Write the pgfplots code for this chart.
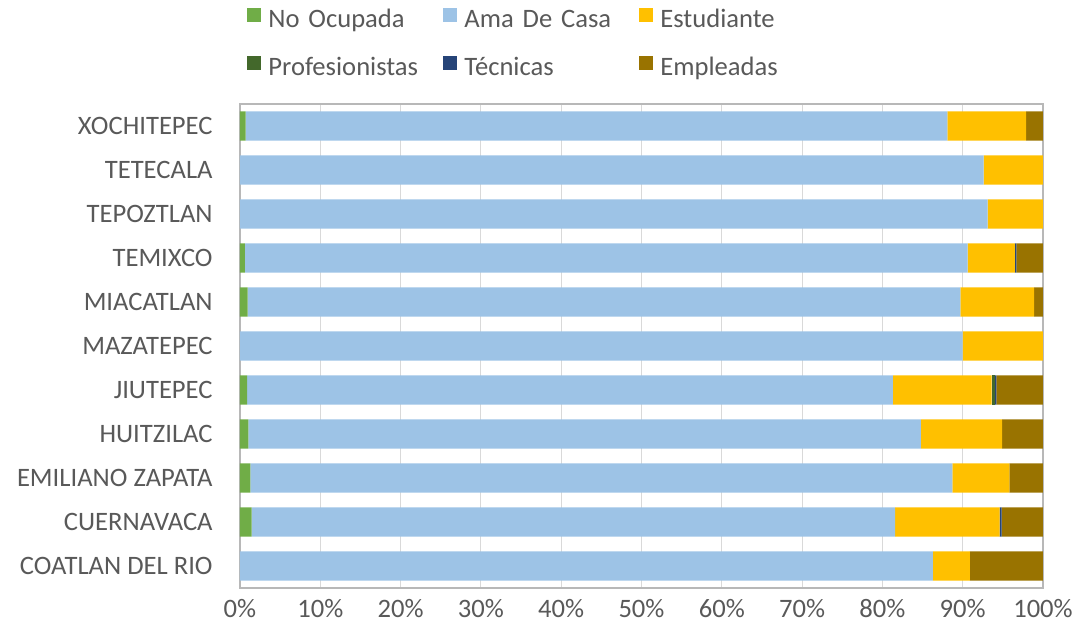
\documentclass[border=0pt]{standalone}
\usepackage{fontspec}
\setmainfont{Carlito}
\usepackage{pgfplots}
\usepackage{pgfplotstable}
\pgfplotsset{compat=1.18}

\definecolor{cNoOc}{HTML}{70AD47}
\definecolor{cAma}{HTML}{9DC3E6}
\definecolor{cEst}{HTML}{FFC000}
\definecolor{cProf}{HTML}{43682B}
\definecolor{cTec}{HTML}{264478}
\definecolor{cEmp}{HTML}{997300}
\definecolor{txt}{HTML}{595959}
\definecolor{grd}{HTML}{D9D9D9}

% porcentajes por municipio (y = posicion, de abajo hacia arriba)
\pgfplotstableread{
y  NoOc  Ama    Est   Prof  Tec   Emp
0  0     86.3   4.6   0     0     9.1
1  1.45  80.15  13.0  0     0.25  5.15
2  1.3   87.4   7.1   0     0     4.2
3  1.05  83.75  10.1  0     0     5.1
4  0.9   80.4   12.3  0.4   0.2   5.8
5  0     90.0   10.0  0     0     0
6  0.95  88.75  9.2   0     0     1.1
7  0.6   90.0   5.9   0     0.2   3.3
8  0     93.1   6.9   0     0     0
9  0     92.6   7.4   0     0     0
10 0.7   87.4   9.8   0     0     2.1
}\datos

\begin{document}
\begin{tikzpicture}
\fontsize{13.3}{16}\selectfont
\begin{axis}[
    name=ax,
    xbar stacked,
    bar width=0.66,
    scale only axis,
    width=401.5pt, height=242pt,
    xmin=0, xmax=100,
    ymin=-0.5, ymax=10.5,
    xtick={0,10,...,100},
    xticklabel={\pgfmathprintnumber{\tick}\%},
    /pgf/number format/assume math mode=true,
    ytick={0,...,10},
    yticklabels={COATLAN DEL RIO, CUERNAVACA, EMILIANO ZAPATA, HUITZILAC, JIUTEPEC, MAZATEPEC, MIACATLAN, TEMIXCO, TEPOZTLAN, TETECALA, XOCHITEPEC},
    major tick length=0pt,
    tick label style={font=\fontsize{13.3}{16}\selectfont, text=txt},
    yticklabel style={inner sep=0pt, xshift=-13.5pt},
    xticklabel style={inner sep=0pt, yshift=-5.4pt},
    xmajorgrids,
    grid style={grd, line width=0.5pt},
    axis line style={draw=grd!85!black, line width=0.7pt},
    legend columns=3,
    legend cell align=left,
    legend style={
        draw=none, fill=none, inner sep=0pt,
        at={(axis description cs:0,1)}, anchor=south west,
        xshift=3.5pt, yshift=11pt,
        row sep=11pt,
        font=\fontsize{13.3}{16}\selectfont, text=txt,
        nodes={inner sep=0pt, text height=9pt, text depth=3pt, text width=87.5pt},
        /tikz/every odd column/.append style={column sep=3.5pt},
        /tikz/every even column/.append style={column sep=0pt},
    },
    legend image code/.code={\fill[#1] (0pt,0pt) rectangle (7pt,7pt);},
]
\addplot[fill=cNoOc, draw=none] table[x=NoOc, y=y] {\datos};
\addlegendentry{No Ocupada}
\addplot[fill=cAma, draw=none] table[x=Ama, y=y] {\datos};
\addlegendentry{Ama De Casa}
\addplot[fill=cEst, draw=none] table[x=Est, y=y] {\datos};
\addlegendentry{Estudiante}
\addplot[fill=cProf, draw=none] table[x=Prof, y=y] {\datos};
\addlegendentry{Profesionistas}
\addplot[fill=cTec, draw=none] table[x=Tec, y=y] {\datos};
\addlegendentry{Técnicas}
\addplot[fill=cEmp, draw=none] table[x=Emp, y=y] {\datos};
\addlegendentry{Empleadas}
\end{axis}
\path ([xshift=-120pt,yshift=-20pt]ax.south west) rectangle ([xshift=15pt,yshift=52pt]ax.north east);
\end{tikzpicture}
\end{document}
